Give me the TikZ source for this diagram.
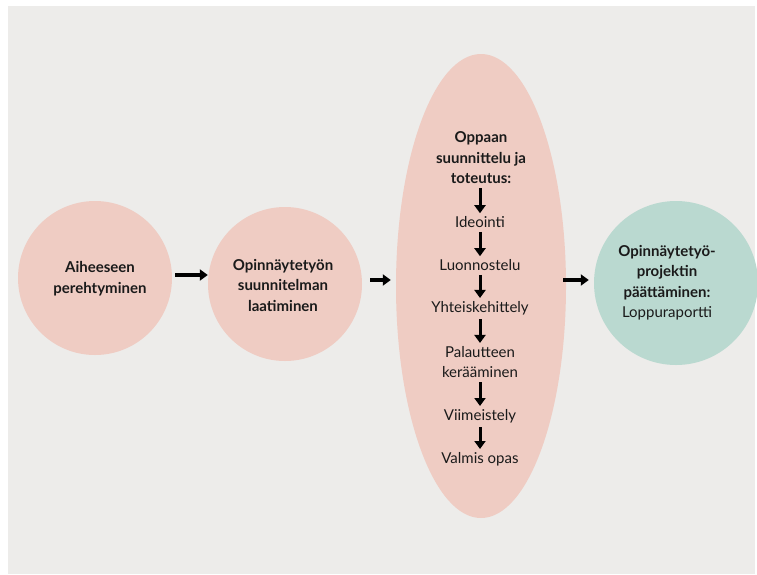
\documentclass[tikz,border=0pt]{standalone}
\usepackage{fontspec}
\setmainfont{Lato}
\usetikzlibrary{arrows.meta,calc,shapes.geometric}
\definecolor{bgc}{HTML}{EDECEA}
\definecolor{pinkc}{HTML}{EFCCC3}
\definecolor{tealc}{HTML}{BAD9D0}
\definecolor{txt}{HTML}{1A1A1A}
\tikzset{
  blob/.style={circle,fill=pinkc,draw=none,inner sep=0pt},
  lbl/.style={align=center,text=txt,font=\fontsize{15}{20.5}\selectfont,inner sep=0pt},
  blbl/.style={lbl,font=\fontsize{15}{20.5}\selectfont\bfseries},
  harr/.style={-{Triangle[width=11pt,length=8pt]},line width=3.2pt,black},
  varr/.style={-{Triangle[width=11pt,length=8pt]},line width=3pt,black}
}
\begin{document}
\begin{tikzpicture}[x=1pt,y=-1pt]
\useasboundingbox (0,0) rectangle (757,574);
\fill[bgc] (8,6) rectangle (755,574);
% shapes
\node[blob,minimum size=154pt] (c1) at (95,278) {};
\node[blob,minimum size=154pt] (c2) at (285,284) {};
\node[ellipse,fill=pinkc,minimum width=170pt,minimum height=464pt,inner sep=0pt] (ell) at (481,286) {};
\node[circle,fill=tealc,minimum size=164pt,inner sep=0pt] (c3) at (676,283) {};
% texts
\node[blbl] (t1) at (100,278.5) {Aiheeseen\\perehtyminen};
\node[blbl] (t2) at (283,285) {Opinnäytetyön\\suunnitelman\\laatiminen};
\node[blbl] (t3) at (481,158) {Oppaan\\suunnittelu ja\\toteutus:};
\node[lbl] (s1) at (480,222) {Ideointi};
\node[lbl] (s2) at (480,265) {Luonnostelu};
\node[lbl] (s3) at (480,308) {Yhteiskehittely};
\node[lbl] (s4) at (480,362) {Palautteen\\kerääminen};
\node[lbl] (s5) at (480,416) {Viimeistely};
\node[lbl] (s6) at (480,459) {Valmis opas};
\node[lbl] (t4) at (667,282.5) {\textbf{Opinnäytetyö-}\\\textbf{projektin}\\\textbf{päättäminen:}\\Loppuraportti};
% horizontal arrows
\draw[harr,shorten <=3pt] ([yshift=3pt]c1.east) -- ([yshift=3pt]c1.east -| c2.west);
\draw[harr,shorten <=8pt,shorten >=5pt] ([yshift=4pt]c2.east) -- ([yshift=4pt]c2.east -| ell.west);
\draw[harr,shorten <=-3pt,shorten >=5pt] ([yshift=6pt]ell.east) -- ([yshift=6pt]ell.east -| c3.west);
% vertical arrows
\draw[varr] ([yshift=-4pt]t3.south -| s1.north) -- ([yshift=3pt]s1.north);
\draw[varr] ([yshift=-4pt]s1.south) -- ([yshift=3pt]s2.north);
\draw[varr] ([yshift=-4pt]s2.south) -- ([yshift=3pt]s3.north);
\draw[varr] ([yshift=-4pt]s3.south) -- ([yshift=3pt]s4.north);
\draw[varr] ([yshift=-4pt]s4.south) -- ([yshift=3pt]s5.north);
\draw[varr] ([yshift=-4pt]s5.south) -- ([yshift=3pt]s6.north);
\end{tikzpicture}
\end{document}
